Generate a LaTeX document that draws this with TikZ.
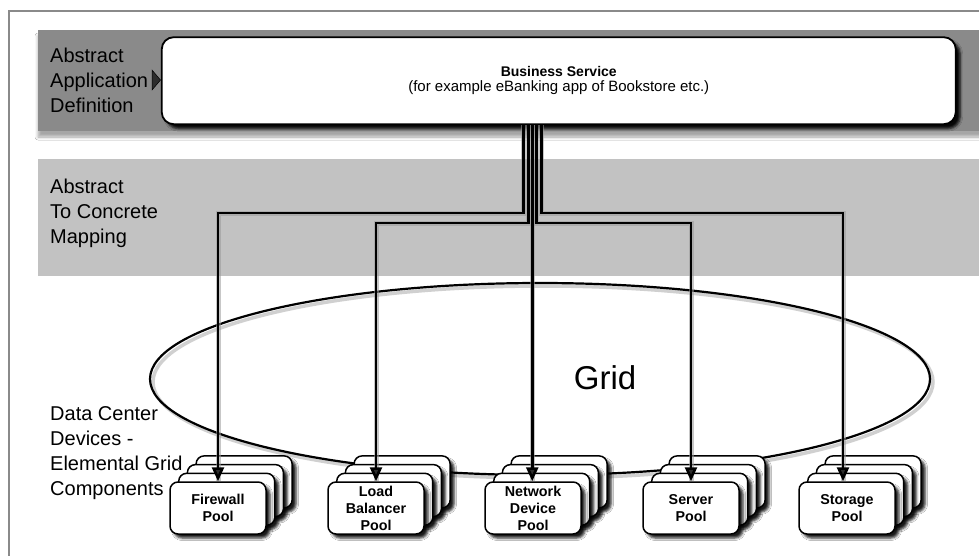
\documentclass[tikz,border=0pt]{standalone}
\usepackage{fontspec}
\setmainfont{Liberation Sans}
\usetikzlibrary{arrows.meta,shadows.blur,shapes.geometric}

\definecolor{bandDark}{HTML}{8A8A8A}
\definecolor{bandLight}{HTML}{C2C2C2}
\definecolor{frameGray}{HTML}{8A8A8A}

\tikzset{
  lbl/.style={anchor=north west, align=left, inner sep=0pt,
    font=\fontsize{20}{25}\selectfont},
  bizbox/.style={draw=black, line width=1.8pt, fill=white, rounded corners=12pt,
    minimum width=794pt, minimum height=87pt, inner sep=0pt, align=center,
    blur shadow={shadow xshift=4.5pt, shadow yshift=-4.5pt, shadow blur radius=2.5pt, shadow opacity=95}},
  pool/.style={draw=black, line width=1.5pt, fill=white, rounded corners=8pt,
    minimum width=96pt, minimum height=52pt, inner sep=0pt, align=center,
    font=\bfseries\fontsize{14.3}{17}\selectfont,
    blur shadow={shadow xshift=4pt, shadow yshift=-4pt, shadow blur radius=2.5pt, shadow opacity=90}},
  conn/.style={line width=2.6pt, -{Triangle[length=14pt,width=12pt]}},
  connshade/.style={line width=5pt, draw=black!40, opacity=0.55, shift={(3.5,3.5)}},
}

% a stack of four pool cards; the front one carries the name and the text
\newcommand\poolstack[4]{%
  \foreach \k in {3,2,1}{%
    \node[pool] at (#2+48+8.7*\k, #3+26-8.7*\k) {};
  }
  \node[pool] (#1) at (#2+48, #3+26) {#4};
}

\begin{document}
\begin{tikzpicture}[x=1pt, y=-1pt]
  \useasboundingbox (0,0) rectangle (979,556);
  \clip (0,0) rectangle (979,556);
  \fill[white] (0,0) rectangle (979,556);

  % outer frame
  \draw[frameGray, line width=1.5pt] (985,11) -- (9,11) -- (9,560);

  % layer bands
  \fill[bandDark, blur shadow={shadow xshift=0pt, shadow yshift=-6pt, shadow blur radius=3pt, shadow opacity=35}]
    (38,30) rectangle (990,131);
  \fill[bandLight] (38,159) rectangle (990,276);

  % layer labels
  \node[lbl] (aad) at (50,47.5) {Abstract\\Application\\Definition};
  \node[lbl] (acm) at (50,178.5) {Abstract\\To Concrete\\Mapping};
  \node[lbl] (dcd) at (50,406.5) {Data Center\\Devices -\\Elemental Grid\\Components};

  % business service
  \node[bizbox] (biz) at (558.75,80.7)
    {{\bfseries\fontsize{14}{17}\selectfont Business Service}\\[2.5pt]
     {\fontsize{15}{17}\selectfont (for example eBanking app of Bookstore etc.)}};
  \draw[line width=0.5pt, -{Triangle[length=9pt,width=21pt]}]
    ([xshift=4pt]aad.east) -- (aad.east -| biz.west);

  % grid ellipse
  \draw[black!30, line width=3.5pt, opacity=0.6] (543,382) ellipse [x radius=390, y radius=96];
  \node[ellipse, draw=black, line width=2.2pt, minimum width=780pt, minimum height=192pt, inner sep=0pt]
    (gridring) at (540,379) {};
  \node[font=\fontsize{33}{33}\selectfont] (gridlbl) at (605,378) {Grid};

  % device pools
  \poolstack{fw}{170}{482}{Firewall\\Pool}
  \poolstack{lb}{328}{482}{Load\\Balancer\\Pool}
  \poolstack{nd}{485}{482}{Network\\Device\\Pool}
  \poolstack{sv}{643}{482}{Server\\Pool}
  \poolstack{st}{799}{482}{Storage\\Pool}

  % mapping connectors: shadows first, then the lines
  \draw[connshade] ([xshift=-35.5pt]biz.south) -- ++(0,88) -| (fw.north);
  \draw[connshade] ([xshift=-30.5pt]biz.south) -- ++(0,98) -| (lb.north);
  \draw[connshade] ([xshift=-26.5pt]biz.south) -- ([xshift=-26.5pt]biz.south |- nd.north);
  \draw[connshade] ([xshift=-22.5pt]biz.south) -- ++(0,98) -| (sv.north);
  \draw[connshade] ([xshift=-17.5pt]biz.south) -- ++(0,88) -| ([xshift=-4pt]st.north);

  \draw[conn] ([xshift=-35.5pt]biz.south) -- ++(0,88) -| (fw.north);
  \draw[conn] ([xshift=-30.5pt]biz.south) -- ++(0,98) -| (lb.north);
  \draw[conn] ([xshift=-26.5pt]biz.south) -- ([xshift=-26.5pt]biz.south |- nd.north);
  \draw[conn] ([xshift=-22.5pt]biz.south) -- ++(0,98) -| (sv.north);
  \draw[conn] ([xshift=-17.5pt]biz.south) -- ++(0,88) -| ([xshift=-4pt]st.north);
\end{tikzpicture}
\end{document}
